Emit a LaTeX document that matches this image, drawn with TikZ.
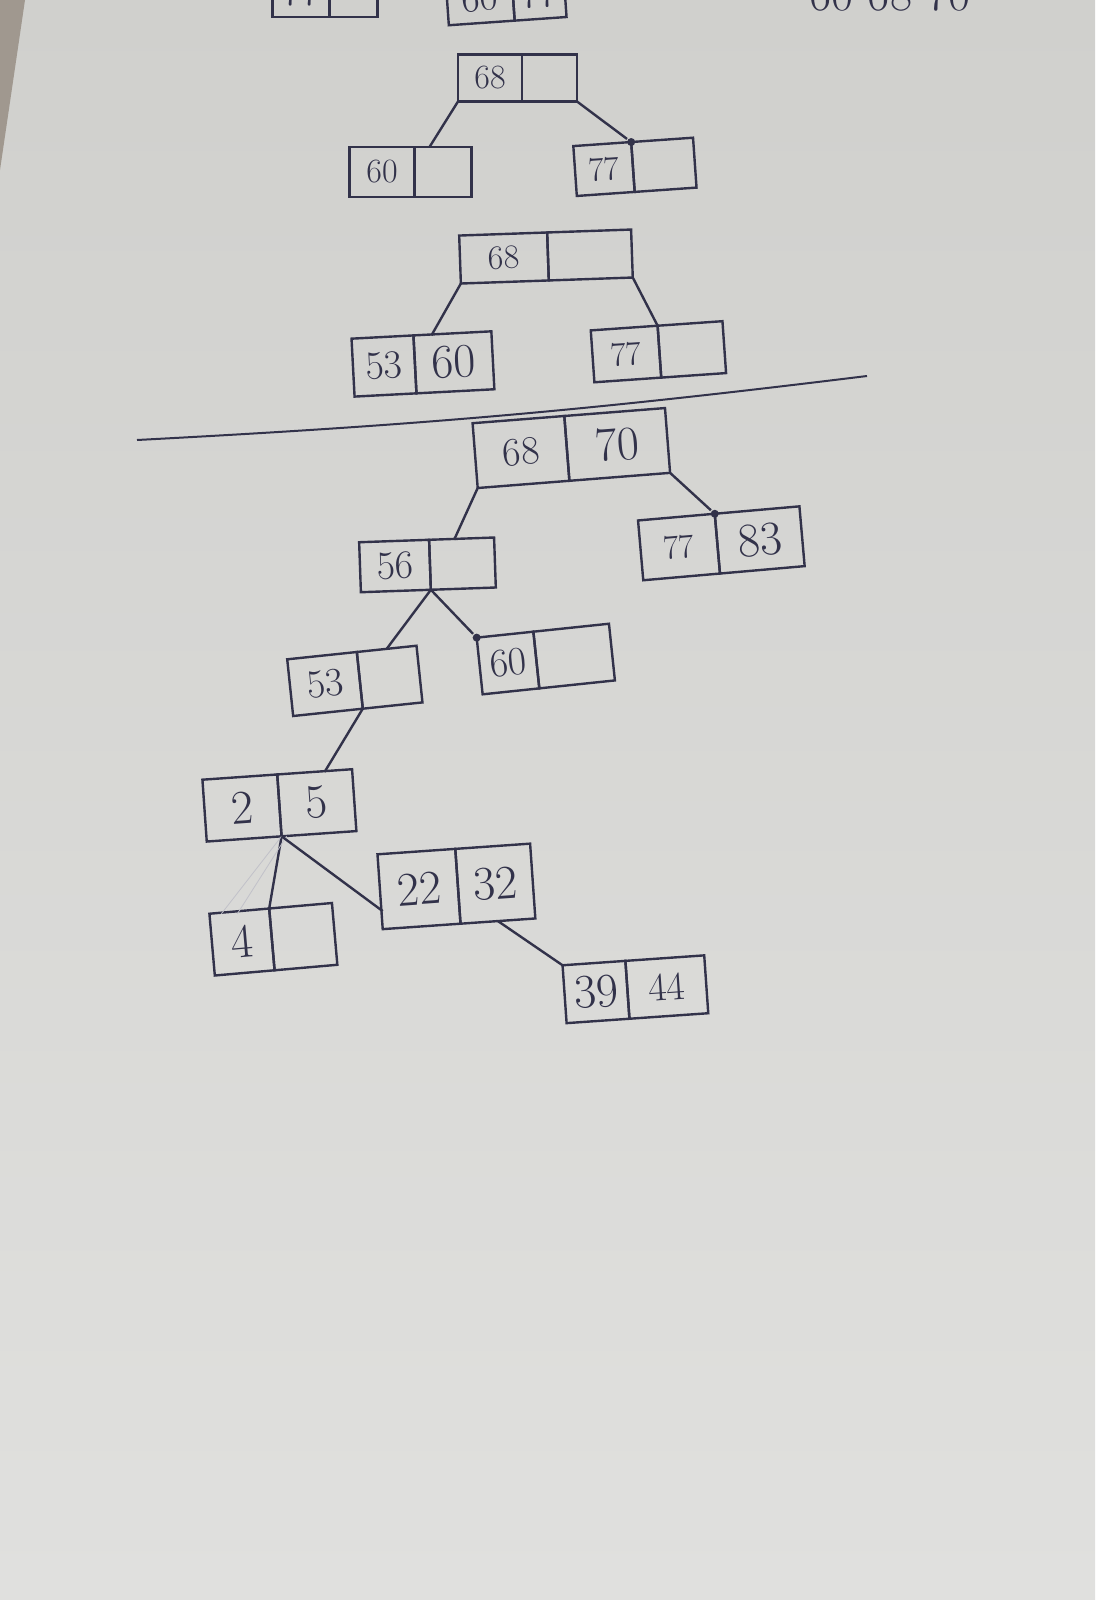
\documentclass[tikz,border=0pt]{standalone}
\usepackage{fontspec}
\usepackage{tikz}
\usetikzlibrary{calc, arrows.meta, positioning}

\definecolor{tinta}{RGB}{50,50,74}
\definecolor{papelA}{RGB}{208,208,205}
\definecolor{papelB}{RGB}{224,224,222}
\definecolor{fondo}{RGB}{160,152,143}

\begin{document}
\begin{tikzpicture}[x=1pt, y=-1pt, line width=2.4pt, color=tinta]
          % Definición de estilos para las celdas y conectores
          \tikzstyle{celda} = [draw, rectangle, inner sep=0pt, outer sep=0pt, minimum height=50pt, font=\fontsize{40}{42}\selectfont]
          \tikzstyle{chica} = [font=\fontsize{34}{36}\selectfont]
          \tikzstyle{grande} = [font=\fontsize{48}{50}\selectfont]
          \tikzstyle{conector} = [fill=tinta, circle, minimum size=8pt, inner sep=0pt] % Punto de llegada
          \tikzstyle{tenue} = [line width=0.8pt, draw=tinta!30]

          % Papel
          \useasboundingbox (0,0) rectangle (1095,1600);
          \shade [top color=papelA, bottom color=papelB] (0,0) rectangle (1095,1600);
          \fill [fondo] (0,0) -- (25,0) -- (0,170) -- cycle;
          \clip (0,0) rectangle (1095,1600);

          % Franja superior (cortada)
          \node at (301,-8) [celda, minimum width=57pt] (s1a) {77};
          \node [celda, right=0pt of s1a, minimum width=48pt] (s1b) {};
          \node at (480,-2) [celda, rotate=4, minimum width=66pt] (s2a) {60};
          \node [celda, rotate=4, right=0pt of s2a, minimum width=52pt] (s2b) {77};
          \node at (890,-5) [font=\fontsize{48}{50}\selectfont] (s3) {60 68 70};

          % Primer árbol
          \node at (490,78) [celda, chica, minimum width=64pt, minimum height=47pt] (a68a) {68};
          \node [celda, right=0pt of a68a, minimum width=55pt, minimum height=47pt] (a68b) {};
          \node at (382,172) [celda, chica, minimum width=65pt] (a60a) {60};
          \node [celda, right=0pt of a60a, minimum width=57pt] (a60b) {};
          \node at (604,169) [celda, chica, rotate=4, minimum width=58pt] (a77a) {77};
          \node [celda, rotate=4, right=0pt of a77a, minimum width=62pt] (a77b) {};
          \node [conector] at (a77a.north east) (pa) {};

          \draw (a68a.south west) -- ([xshift=15pt]a60b.north west);
          \draw (a68b.south east) -- (pa);

          % Segundo árbol
          \node at (504,258) [celda, chica, rotate=2, minimum width=88pt, minimum height=48pt] (b68a) {68};
          \node [celda, rotate=2, right=0pt of b68a, minimum width=84pt, minimum height=48pt] (b68b) {};
          \node at (384,366) [celda, rotate=3, minimum width=62pt, minimum height=58pt] (b53a) {53};
          \node [celda, grande, rotate=3, right=0pt of b53a, minimum width=78pt, minimum height=58pt] (b53b) {60};
          \node at (626,354) [celda, chica, rotate=4, minimum width=67pt, minimum height=52pt] (b77a) {77};
          \node [celda, rotate=4, right=0pt of b77a, minimum width=65pt, minimum height=52pt] (b77b) {};

          \draw (b68a.south west) -- ([xshift=18pt]b53b.north west);
          \draw (b68b.south east) -- (b77a.north east);

          % Línea de separación
          \coordinate (sepIzq) at (137,440);
          \coordinate (sepDer) at (867,376);
          \draw [line width=2pt] (sepIzq) to[bend right=2] (sepDer);

          % Tercer árbol
          \node at (521,452) [celda, rotate=4.5, minimum width=92pt, minimum height=65pt] (c68a) {68};
          \node [celda, grande, rotate=4.5, right=0pt of c68a, minimum width=101pt, minimum height=65pt] (c68b) {70};
          \node at (679,547) [celda, chica, rotate=5, minimum width=77pt, minimum height=60pt] (c77a) {77};
          \node [celda, grande, rotate=5, right=0pt of c77a, minimum width=85pt, minimum height=60pt] (c77b) {83};
          \node at (395,566) [celda, rotate=2, minimum width=70pt, minimum height=50pt] (c56a) {56};
          \node [celda, rotate=2, right=0pt of c56a, minimum width=65pt, minimum height=50pt] (c56b) {};
          \node at (325,684) [celda, rotate=6, minimum width=70pt, minimum height=57pt] (c53a) {53};
          \node [celda, rotate=6, right=0pt of c53a, minimum width=60pt, minimum height=57pt] (c53b) {};
          \node at (508,663) [celda, rotate=6, minimum width=57pt, minimum height=57pt] (c60a) {60};
          \node [celda, rotate=6, right=0pt of c60a, minimum width=76pt, minimum height=57pt] (c60b) {};
          \node at (242,808) [celda, grande, rotate=4, minimum width=75pt, minimum height=62pt] (c25a) {2};
          \node [celda, grande, rotate=4, right=0pt of c25a, minimum width=75pt, minimum height=62pt] (c25b) {5};
          \node at (242,942) [celda, grande, rotate=5, minimum width=60pt, minimum height=62pt] (c4a) {4};
          \node [celda, rotate=5, right=0pt of c4a, minimum width=63pt, minimum height=62pt] (c4b) {};
          \node at (419,889) [celda, grande, rotate=4, minimum width=78pt, minimum height=75pt] (c22a) {22};
          \node [celda, grande, rotate=4, right=0pt of c22a, minimum width=75pt, minimum height=75pt] (c22b) {32};
          \node at (596,992) [celda, grande, rotate=4, minimum width=63pt, minimum height=58pt] (c39a) {39};
          \node [celda, rotate=4, right=0pt of c39a, minimum width=79pt, minimum height=58pt] (c39b) {44};
          \node [conector] at (c77a.north east) (pc) {};
          \node [conector] at (c60a.north west) (pd) {};

          \draw (c68a.south west) -- ([xshift=25pt]c56b.north west);
          \draw (c68b.south east) -- (pc);
          \draw (c56a.south east) -- (c53b.north);
          \draw (c56a.south east) -- (pd);
          \draw (c53a.south east) -- ([xshift=10pt]c25b.north);
          \draw (c25a.south east) -- (c4a.north east);
          \draw [tenue] (c25a.south east) -- ([xshift=12pt]c4a.north west);
          \draw [tenue] ([xshift=5pt]c25a.south east) -- ([xshift=28pt]c4a.north west);
          \draw (c25a.south east) -- ([yshift=18pt]c22a.south west);
          \draw (c22b.south) -- (c39a.north west);
        \end{tikzpicture}
\end{document}
